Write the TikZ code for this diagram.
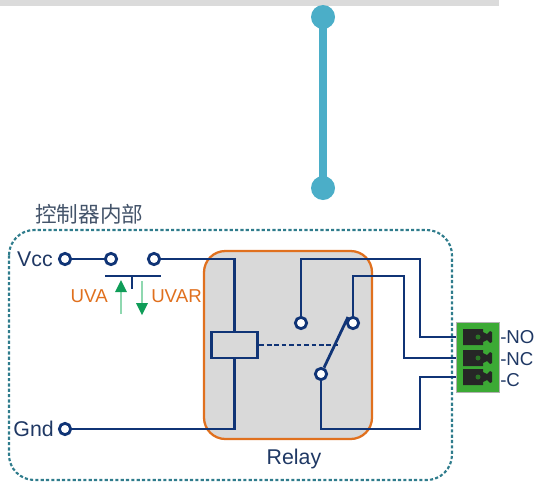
\documentclass[tikz,border=0pt]{standalone}
\usepackage{fontspec}
\setmainfont{Liberation Sans}
\newfontfamily\cjk{Noto Sans CJK SC}
\usetikzlibrary{arrows.meta}
\definecolor{navy}{HTML}{103476}
\definecolor{tealdash}{HTML}{2F7C8C}
\definecolor{orangeb}{HTML}{E0701E}
\definecolor{grayf}{HTML}{D9D9D9}
\definecolor{skyb}{HTML}{4BAEC8}
\definecolor{greenb}{HTML}{3CAA35}
\definecolor{garrow}{HTML}{0F9D58}
\definecolor{glight}{HTML}{8FD8B0}
\definecolor{txtblue}{HTML}{1F3864}
\definecolor{cjkcol}{HTML}{44546A}
\tikzset{
  px/.style={x=0.75pt,y=-0.75pt},
  wire/.style={draw=navy,line width=2.1pt},
  term/.style={circle,draw=navy,line width=2.1pt,fill=white,inner sep=0pt,minimum size=8.5pt},
  lbl/.style={inner sep=0pt,text=txtblue,font=\fontsize{16pt}{18pt}\selectfont},
  olbl/.style={inner sep=0pt,text=orangeb,font=\fontsize{14pt}{16pt}\selectfont},
  conlbl/.style={inner sep=0pt,anchor=west,text=txtblue,font=\fontsize{14pt}{16pt}\selectfont},
  knob/.style={circle,fill=skyb,inner sep=0pt,minimum size=18pt},
}
\begin{document}
\begin{tikzpicture}[px]
\useasboundingbox (0,0) rectangle (534,482);
% top bar
\fill[gray!28] (0,0) rectangle (499,6);
% blue bar with knobs
\node[knob] (k1) at (323,17) {};
\node[knob] (k2) at (323,188) {};
\draw[skyb,line width=6pt,shorten <=-2pt,shorten >=-2pt] (k1) -- (k2);
% outer dashed frame
\draw[tealdash,line width=1.6pt,dash pattern=on 2.4pt off 1.6pt,rounded corners=19pt] (9,230) rectangle (452,480);
\node[inner sep=0pt,anchor=west,text=cjkcol,font=\cjk\fontsize{16.2pt}{18pt}\selectfont] (title) at (35,214) {控制器内部};
% relay box
\draw[orangeb,fill=grayf,line width=1.7pt,rounded corners=16pt] (204,251) rectangle (372,439);
\node[lbl] (relay) at (294,459) {Relay};
% terminals
\node[term] (vcc) at (65,259) {};
\node[term] (s1) at (111,259) {};
\node[term] (s2) at (154,259) {};
\node[term] (gnd) at (65,429) {};
\node[term] (no) at (301,323) {};
\node[term] (nc) at (353,323) {};
\node[term] (com) at (321,374) {};
\node[lbl,anchor=east] (vcclbl) at (53,259) {Vcc};
\node[lbl,anchor=east] (gndlbl) at (54,429) {Gnd};
% coil
\node[draw=navy,line width=2.1pt,fill=grayf,minimum width=35pt,minimum height=19.5pt,inner sep=0pt] (coil) at (234.5,345) {};
% connector block
\fill[gray!60] (455.5,321.5) rectangle (500,393);
\fill[greenb] (457,323) rectangle (498.5,391.5);
\foreach \n/\y in {a/337,b/358,c/377}{
  \coordinate (p\n) at (456,\y);
  \begin{scope}[shift={(0,\y)}]
    \fill[black!85] (463,-8) -- (483,-8) -- (483,-5) -- (487,-3) -- (490,-6) -- (492,-5) -- (492,5) -- (490,6) -- (487,3) -- (483,5) -- (483,8) -- (463,8) -- cycle;
    \fill[greenb!70!black] (478,0) circle (2.5);
  \end{scope}
}
% wires
\coordinate (t1) at (234.5,259);
\coordinate (b1) at (234.5,429);
\draw[wire] (vcc) -- (s1);
\draw[wire] (s2) -- (t1) -- (coil.north -| t1);
\draw[wire] (gnd) -- (b1) -- (coil.south -| b1);
\coordinate (n1) at (301,259);
\coordinate (n2) at (420,259);
\draw[wire] (no) -- (n1) -- (n2) |- (pa);
\coordinate (c1) at (353,276);
\coordinate (c2) at (404,276);
\draw[wire] (nc) -- (c1) -- (c2) |- (pb);
\coordinate (d1) at (321,429);
\coordinate (d2) at (420,429);
\draw[wire] (com) -- (d1) -- (d2) |- (pc);
\coordinate (armtip) at (348,317);
\draw[wire] (com) -- (armtip);
\coordinate (dashend) at (338,345);
\draw[wire,dash pattern=on 3.6pt off 2pt] (coil.east) -- (dashend);
% push button
\coordinate (bl) at (105,276);
\coordinate (br) at (161,276);
\coordinate (bm) at (132,276);
\coordinate (bs) at (132,289);
\draw[wire] (bl) -- (br);
\draw[wire] (bm) -- (bs);
% arrows
\coordinate (u1) at (121,314);
\coordinate (u2) at (121,280);
\coordinate (v1) at (142,281);
\coordinate (v2) at (142,315);
\draw[glight,line width=1.2pt] (u1) -- (121,290);
\fill[garrow] (u2) -- (127,292) -- (115,292) -- cycle;
\draw[glight,line width=1.2pt] (v1) -- (142,304);
\fill[garrow] (v2) -- (148,303) -- (136,303) -- cycle;
\node[olbl,anchor=east] (uva) at (108,296) {UVA};
\node[olbl,anchor=west] (uvar) at (151,296) {UVAR};
% connector labels
\node[conlbl] (lno) at (500,337) {-NO};
\node[conlbl] (lnc) at (500,359) {-NC};
\node[conlbl] (lc) at (500,380) {-C};
\end{tikzpicture}
\end{document}
